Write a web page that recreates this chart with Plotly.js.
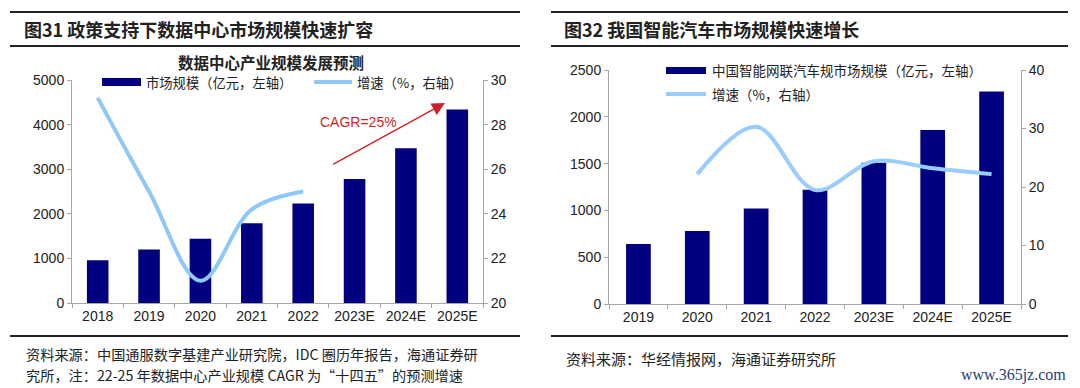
<!DOCTYPE html>
<html><head><meta charset="utf-8">
<script src="https://cdn.plot.ly/plotly-3.0.1.min.js"></script>
<style>html,body{margin:0;padding:0;background:#fff}#chart{width:1080px;height:388px}</style>
</head><body><div id="chart"></div>
<script>
// Left chart: data center industry
const yearsA = ['2018','2019','2020','2021','2022','2023E','2024E','2025E'];
const marketA = [960, 1200, 1440, 1790, 2230, 2780, 3470, 4340];
const growthYearsA = ['2018','2019','2020','2021','2022'];
const growthA = [29.2, 25.0, 21.0, 24.2, 25.0];
// Right chart: intelligent connected vehicles
const yearsB = ['2019','2020','2021','2022','2023E','2024E','2025E'];
const marketB = [640, 780, 1020, 1220, 1510, 1860, 2270];
const growthYearsB = ['2020','2021','2022','2023E','2024E','2025E'];
const growthB = [22.2, 30.3, 19.5, 24.4, 23.2, 22.2];

const W = 1080, H = 388;
const px = x => x / W, py = y => 1 - y / H;
const NAVY = '#000080', LIGHT = '#8DC8F8', LIGHT2 = '#99CCFF';
const CJK = '"Noto Sans CJK SC", sans-serif';
const NUM = 'Arial, "Liberation Sans", sans-serif';
const tickFont = {family: NUM, size: 14, color: '#222'};
const axisCommon = {showgrid: false, zeroline: false, showline: true, linecolor: '#a6a6a6', linewidth: 1,
  ticks: 'outside', ticklen: 4, tickcolor: '#a6a6a6', tickfont: tickFont, fixedrange: true};

const traces = [
  {type: 'bar', x: yearsA, y: marketA, xaxis: 'x', yaxis: 'y', marker: {color: NAVY}, width: 0.42, showlegend: false, hoverinfo: 'skip'},
  {type: 'scatter', mode: 'lines', x: growthYearsA, y: growthA, xaxis: 'x', yaxis: 'y2',
   line: {color: LIGHT, width: 4, shape: 'spline', smoothing: 1}, showlegend: false, hoverinfo: 'skip'},
  {type: 'bar', x: yearsB, y: marketB, xaxis: 'x2', yaxis: 'y3', marker: {color: NAVY}, width: 0.42, showlegend: false, hoverinfo: 'skip'},
  {type: 'scatter', mode: 'lines', x: growthYearsB, y: growthB, xaxis: 'x2', yaxis: 'y4',
   line: {color: LIGHT2, width: 4, shape: 'spline', smoothing: 1}, showlegend: false, hoverinfo: 'skip'}
];

const line = (x0, x1, y, w) => ({type: 'line', xref: 'paper', yref: 'paper', x0: px(x0), x1: px(x1), y0: py(y), y1: py(y), line: {color: '#222', width: w}});
const shapes = [
  line(10, 520, 12, 2), line(10, 520, 46, 2), line(10, 520, 336, 2),
  line(551, 1068, 12, 2), line(551, 1068, 46, 2), line(551, 1068, 336, 2),
  // custom legends
  {type: 'rect', xref: 'paper', yref: 'paper', x0: px(102), x1: px(141), y0: py(78), y1: py(86), fillcolor: NAVY, line: {width: 0}},
  {type: 'line', xref: 'paper', yref: 'paper', x0: px(314), x1: px(352), y0: py(82), y1: py(82), line: {color: LIGHT, width: 4}},
  {type: 'rect', xref: 'paper', yref: 'paper', x0: px(666), x1: px(706), y0: py(67), y1: py(74), fillcolor: NAVY, line: {width: 0}},
  {type: 'line', xref: 'paper', yref: 'paper', x0: px(666), x1: px(706), y0: py(94), y1: py(94), line: {color: LIGHT2, width: 4}}
];

const ann = (x, y, text, size, opts) => Object.assign({xref: 'paper', yref: 'paper', x: px(x), y: py(y), text: text,
  showarrow: false, xanchor: 'left', yanchor: 'middle', font: {family: CJK, size: size, color: '#222'}}, opts || {});

const annotations = [
  ann(22, 29, '<b>图31 政策支持下数据中心市场规模快速扩容</b>', 18),
  ann(562, 29, '<b>图32 我国智能汽车市场规模快速增长</b>', 18),
  ann(271, 62, '<b>数据中心产业规模发展预测</b>', 15.5, {xanchor: 'center'}),
  ann(144, 82.5, '市场规模（亿元，左轴）', 13.3),
  ann(355, 82.5, '增速（%，右轴）', 13.3),
  ann(710, 70, '中国智能网联汽车规市场规模（亿元，左轴）', 13.5),
  ann(710, 94, '增速（%，右轴）', 13.5),
  ann(358, 122, 'CAGR=25%', 14, {xanchor: 'center', font: {family: NUM, size: 14, color: '#D01F26'}}),
  {xref: 'paper', yref: 'paper', x: px(445), y: py(103), ax: -115, ay: 63, text: ' ', showarrow: true,
   arrowhead: 2, arrowsize: 2, arrowwidth: 1.3, arrowcolor: '#D01F26'},
  ann(24, 354, '资料来源：中国通服数字基建产业研究院，IDC 圈历年报告，海通证券研', 14.2),
  ann(24, 375, '究所，注：22-25 年数据中心产业规模 CAGR 为“十四五”的预测增速', 14.2),
  ann(564, 358, '资料来源：华经情报网，海通证券研究所', 15),
  ann(1068, 375, 'www.365jz.com', 16, {xanchor: 'right', font: {family: '"Liberation Serif", "DejaVu Serif", serif', size: 16, color: '#1F3E7A'}})
];

const layout = {
  width: W, height: H, margin: {l: 0, r: 0, t: 0, b: 0},
  paper_bgcolor: '#fff', plot_bgcolor: '#fff', showlegend: false,
  xaxis: Object.assign({}, axisCommon, {domain: [px(72), px(483)], anchor: 'y', type: 'category', tickson: 'boundaries'}),
  yaxis: Object.assign({}, axisCommon, {domain: [py(303), py(80)], anchor: 'x', range: [0, 5000], dtick: 1000}),
  yaxis2: Object.assign({}, axisCommon, {overlaying: 'y', anchor: 'x', side: 'right', range: [20, 30], dtick: 2}),
  xaxis2: Object.assign({}, axisCommon, {domain: [px(609), px(1021)], anchor: 'y3', type: 'category', tickson: 'boundaries'}),
  yaxis3: Object.assign({}, axisCommon, {domain: [py(304), py(70)], anchor: 'x2', range: [0, 2500], dtick: 500}),
  yaxis4: Object.assign({}, axisCommon, {overlaying: 'y3', anchor: 'x2', side: 'right', range: [0, 40], dtick: 10}),
  shapes: shapes, annotations: annotations, bargap: 0.58
};

Plotly.newPlot('chart', traces, layout, {staticPlot: true, displayModeBar: false});
</script></body></html>
